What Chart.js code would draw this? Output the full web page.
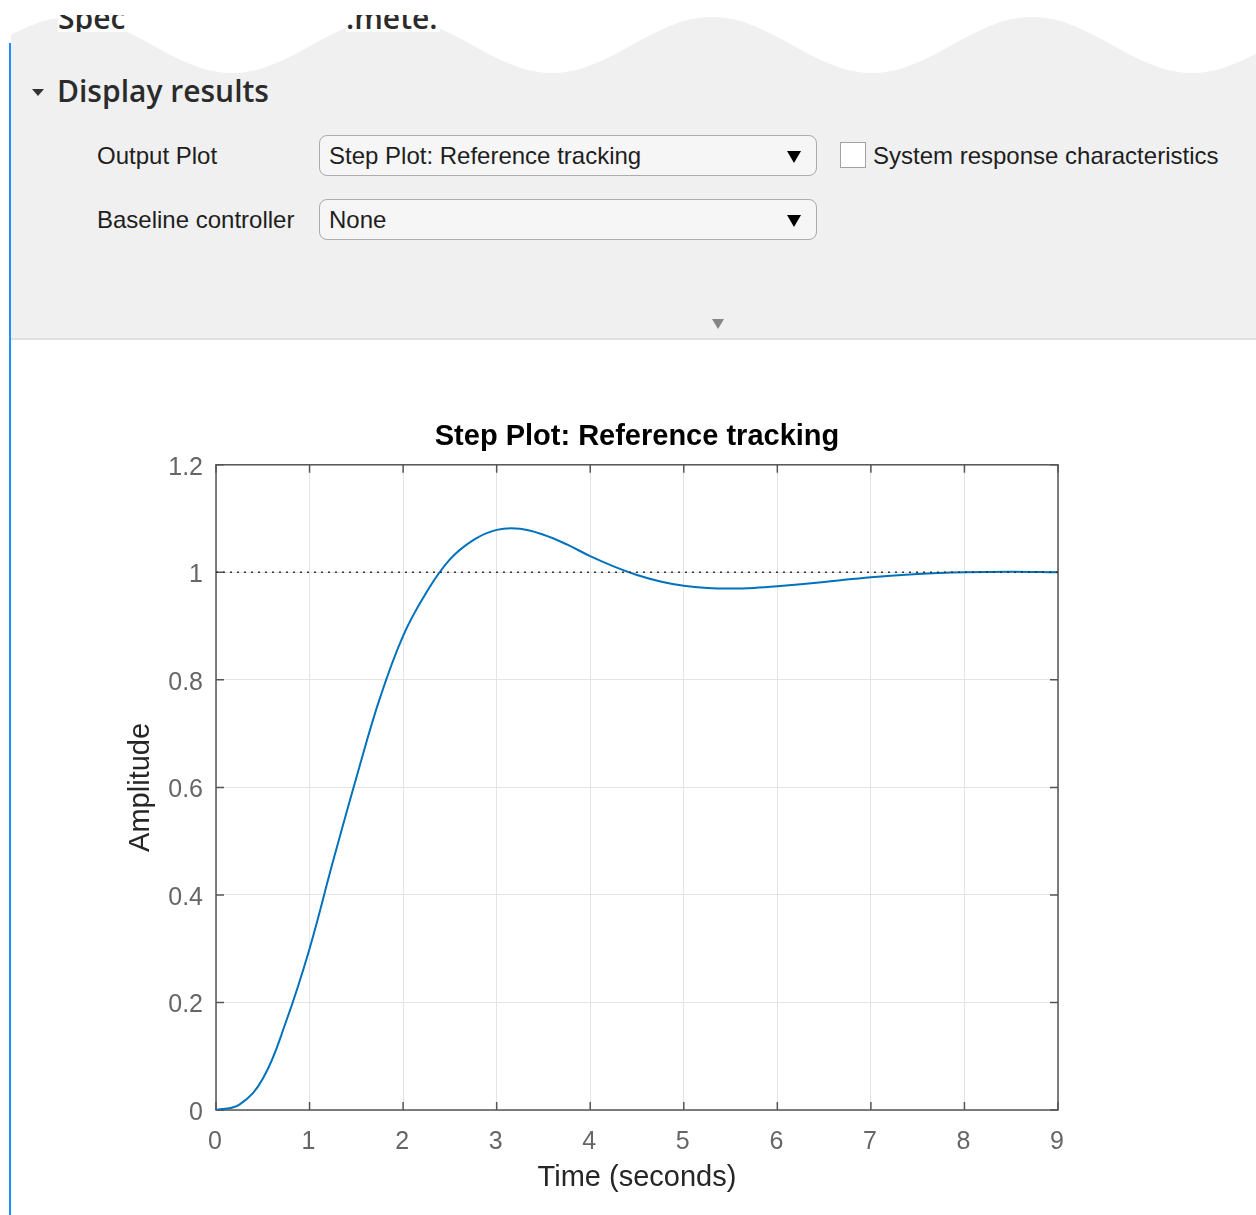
<!DOCTYPE html>
<html>
<head>
<meta charset="utf-8">
<script src="https://cdn.jsdelivr.net/npm/chart.js@4.4.1/dist/chart.umd.min.js"></script>
<style>
  body { margin: 0; width: 1256px; height: 1215px; position: relative; overflow: hidden; background: #fff;
         font-family: "Liberation Sans", Arial, sans-serif; }
  .abs { position: absolute; }
  #panel { left: 11px; top: 0; width: 1245px; height: 338px; background: #f0f0f0; border-bottom: 2px solid #e0e0e0; }
  #tear { left: 0; top: 0; }
  #blueLine { left: 9px; top: 43px; width: 2px; height: 1172px; background: #1e8fff; }
  .frag { top: 15px; height: 17px; overflow: hidden; background: #fff; }
  .frag span { display: block; margin-top: -18px; font: 600 30px "Open Sans", sans-serif; color: #2b2b2b; }
  #caret { left: 32px; top: 89px; width: 0; height: 0; border-left: 6px solid transparent; border-right: 6px solid transparent; border-top: 7px solid #333; }
  #sectionTitle { left: 57px; top: 70px; font: 600 30px "Open Sans", sans-serif; color: #2b2b2b; }
  .lbl { font-size: 24px; color: #1e1e1e; line-height: 28px; }
  .combo { left: 319px; width: 496px; height: 39px; border: 1.5px solid #acacac; border-radius: 8px; background: #f6f6f6; }
  .combo span { position: absolute; left: 9px; top: 6px; font-size: 24px; line-height: 28px; color: #1e1e1e; }
  .combo i { position: absolute; right: 15px; top: 15px; width: 0; height: 0; border-left: 7px solid transparent; border-right: 7px solid transparent; border-top: 12px solid #000; }
  #check { left: 840px; top: 142px; width: 24px; height: 24px; background: #fff; border: 1.5px solid #a2a2a2; }
  #more { left: 712px; top: 319px; width: 0; height: 0; border-left: 6.5px solid transparent; border-right: 6.5px solid transparent; border-top: 10px solid #858585; }
  #plotBox { left: 0; top: 340px; width: 1256px; height: 875px; }
</style>
</head>
<body>
<div id="panel" class="abs"></div>
<svg id="tear" class="abs" width="1256" height="80"><path id="tearPath" fill="#fff"></path></svg>
<div class="abs frag" style="left:58px;width:70px"><span>Spec</span></div>
<div class="abs frag" style="left:346px;width:94px"><span>.mete.</span></div>
<div id="blueLine" class="abs"></div>

<div id="caret" class="abs"></div>
<div id="sectionTitle" class="abs">Display results</div>

<div class="abs lbl" style="left:97px;top:142px">Output Plot</div>
<div class="abs combo" style="top:135px"><span>Step Plot: Reference tracking</span><i></i></div>
<div id="check" class="abs"></div>
<div class="abs lbl" style="left:873px;top:142px">System response characteristics</div>

<div class="abs lbl" style="left:97px;top:206px">Baseline controller</div>
<div class="abs combo" style="top:199px"><span>None</span><i></i></div>
<div id="more" class="abs"></div>

<div id="plotBox" class="abs"><canvas id="stepChart" width="1256" height="875"></canvas></div>

<script>
// step response
var timeSec = [0, 0.25, 0.5, 0.75, 1, 1.25, 1.5, 1.75, 2, 2.25, 2.5, 2.75, 3, 3.25, 3.5, 3.75,
  4, 4.25, 4.5, 4.75, 5, 5.25, 5.5, 5.75, 6, 6.5, 7, 7.5, 8, 8.5, 9];
var amplitude = [0, 0.01, 0.058, 0.165, 0.30, 0.462, 0.618, 0.765, 0.882, 0.963, 1.024, 1.06, 1.079, 1.081, 1.07, 1.052,
  1.03, 1.011, 0.995, 0.983, 0.975, 0.971, 0.970, 0.971, 0.974, 0.982, 0.991, 0.997, 1.0, 1.001, 1.0];
var referenceLevel = 1;
var xTickValues = [0, 1, 2, 3, 4, 5, 6, 7, 8, 9];
var yTickValues = [0, 0.2, 0.4, 0.6, 0.8, 1, 1.2];
var yTickLabels = ["0", "0.2", "0.4", "0.6", "0.8", "1", "1.2"];

// torn edge across the top of the panel
var d = "M0,0 L1256,0";
for (var px = 1256; px >= 0; px -= 4) {
  var wy = 45 - 28 * Math.cos(2 * Math.PI * (px - 72) / 320);
  d += " L" + px + "," + wy.toFixed(1);
}
document.getElementById("tearPath").setAttribute("d", d + " Z");

var stepPoints = timeSec.map(function (t, i) { return { x: t, y: amplitude[i] }; });
var refPoints = [{ x: timeSec[0], y: referenceLevel }, { x: timeSec[timeSec.length - 1], y: referenceLevel }];

var axisFont = "'Liberation Sans', Arial, sans-serif";

// box round the axes with inward tick marks on all four sides
var axesBox = {
  id: "axesBox",
  beforeDatasetsDraw: function (chart) {
    var a = chart.chartArea, c = chart.ctx;
    var xs = chart.scales.x, ys = chart.scales.y;
    c.save();
    c.strokeStyle = "#555";
    c.lineWidth = 1.5;
    c.strokeRect(a.left, a.top, a.right - a.left, a.bottom - a.top);
    c.beginPath();
    xTickValues.forEach(function (v) {
      var p = xs.getPixelForValue(v);
      c.moveTo(p, a.bottom); c.lineTo(p, a.bottom - 8);
      c.moveTo(p, a.top); c.lineTo(p, a.top + 8);
    });
    yTickValues.forEach(function (v) {
      var p = ys.getPixelForValue(v);
      c.moveTo(a.left, p); c.lineTo(a.left + 8, p);
      c.moveTo(a.right, p); c.lineTo(a.right - 8, p);
    });
    c.stroke();
    c.restore();
  }
};

var ctx = document.getElementById("stepChart").getContext("2d");
var config = {
  type: "line",
  data: {
    datasets: [
      {
        data: refPoints,
        borderColor: "#333",
        borderWidth: 1.5,
        borderDash: [2, 5],
        pointRadius: 0,
        fill: false
      },
      {
        data: stepPoints,
        borderColor: "#0072BD",
        borderWidth: 2,
        pointRadius: 0,
        tension: 0.4,
        fill: false
      }
    ]
  },
  options: {
    responsive: false,
    devicePixelRatio: 1,
    animation: false,
    layout: { padding: { left: 100, right: 198, top: 0, bottom: 0 } },
    plugins: {
      legend: { display: false },
      tooltip: { enabled: false },
      title: {
        display: true,
        fullSize: false,
        text: "Step Plot: Reference tracking",
        color: "#000",
        font: { family: axisFont, size: 29, weight: "bold" },
        padding: { top: 80, bottom: 10 }
      }
    },
    scales: {
      x: {
        type: "linear",
        min: 0,
        max: 9,
        afterBuildTicks: function (scale) { scale.ticks = xTickValues.map(function (v) { return { value: v }; }); },
        afterFit: function (scale) { scale.height = 105; },
        ticks: {
          color: "#666",
          padding: 17,
          labelOffset: -1,
          font: { family: axisFont, size: 25 },
          maxRotation: 0,
          callback: function (v) { return String(v); }
        },
        grid: { color: "#e4e4e4", lineWidth: 1, drawTicks: false },
        border: { display: false },
        title: {
          display: true,
          text: "Time (seconds)",
          color: "#262626",
          font: { family: axisFont, size: 29 },
          padding: { top: 0, bottom: 20 }
        }
      },
      y: {
        type: "linear",
        min: 0,
        max: 1.2,
        afterBuildTicks: function (scale) { scale.ticks = yTickValues.map(function (v) { return { value: v }; }); },
        afterFit: function (scale) { scale.width = 116; },
        ticks: {
          color: "#666",
          padding: 13,
          labelOffset: 3,
          font: { family: axisFont, size: 25 },
          callback: function (v, i) { return yTickLabels[i]; }
        },
        grid: { color: "#e4e4e4", lineWidth: 1, drawTicks: false },
        border: { display: false },
        title: {
          display: true,
          text: "Amplitude",
          color: "#262626",
          font: { family: axisFont, size: 29 },
          padding: { top: 24, bottom: 0 }
        }
      }
    }
  },
  plugins: [axesBox]
};

var stepChart = new Chart(ctx, config);
</script>
</body>
</html>
